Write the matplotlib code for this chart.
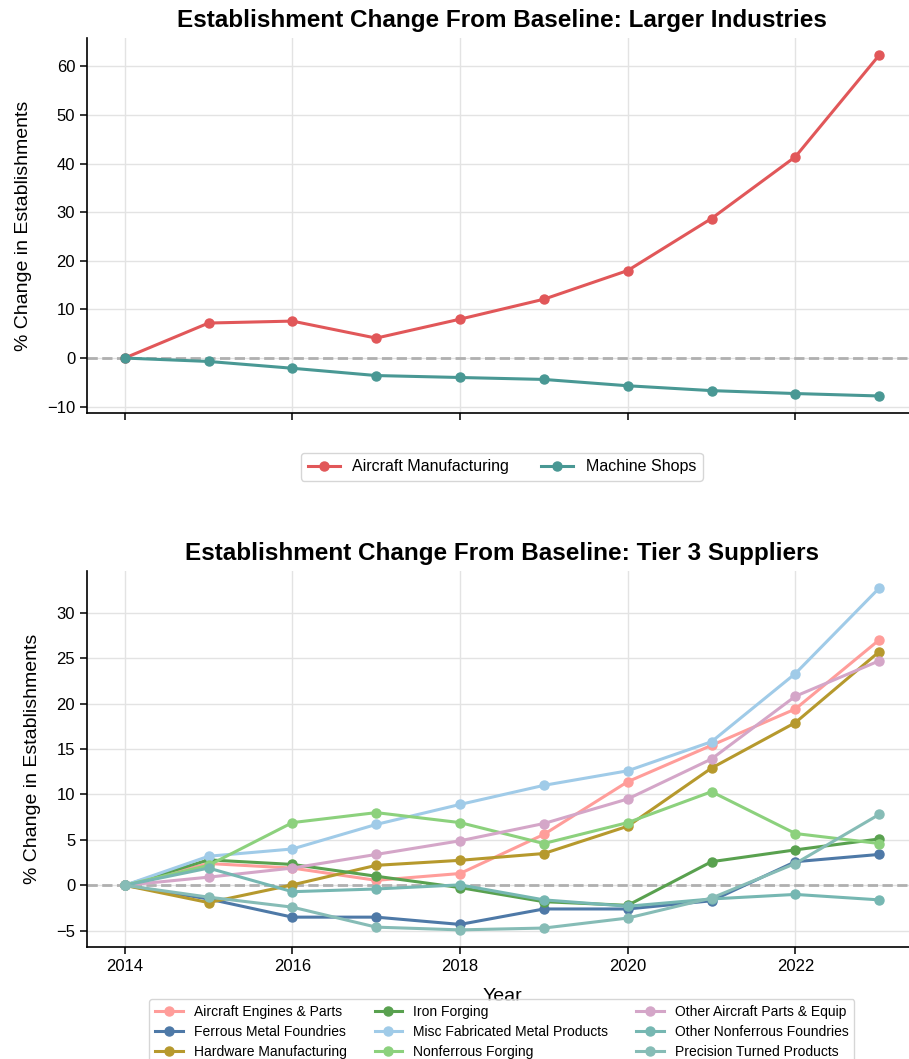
import matplotlib
matplotlib.use("Agg")
import matplotlib.pyplot as plt

plt.rcParams['font.family'] = ['Liberation Sans', 'DejaVu Sans']

years = [2014, 2015, 2016, 2017, 2018, 2019, 2020, 2021, 2022, 2023]

# larger industries (% change vs 2014)
aircraft_mfg = [0, 7.2, 7.6, 4.1, 8.0, 12.1, 18.0, 28.7, 41.4, 62.3]
machine_shops = [0, -0.7, -2.1, -3.6, -4.0, -4.4, -5.7, -6.7, -7.3, -7.8]

# tier 3 suppliers
engines_parts = [0, 2.4, 1.9, 0.55, 1.3, 5.6, 11.4, 15.4, 19.4, 27.0]
ferrous_found = [0, -1.5, -3.5, -3.5, -4.3, -2.6, -2.6, -1.7, 2.6, 3.4]
hardware_mfg = [0, -1.9, 0.05, 2.2, 2.75, 3.5, 6.5, 12.9, 17.9, 25.7]
iron_forging = [0, 2.8, 2.3, 1.0, -0.25, -1.8, -2.2, 2.6, 3.9, 5.1]
misc_fab_metal = [0, 3.2, 4.0, 6.7, 8.9, 11.0, 12.6, 15.8, 23.3, 32.7]
nonferr_forging = [0, 2.2, 6.9, 8.0, 6.9, 4.6, 6.9, 10.3, 5.7, 4.6]
other_aircraft = [0, 0.9, 1.9, 3.4, 4.9, 6.8, 9.5, 13.9, 20.8, 24.7]
other_nonferr = [0, 1.9, -0.7, -0.4, 0.05, -1.6, -2.3, -1.5, -1.0, -1.6]
precision_turned = [0, -1.3, -2.4, -4.6, -4.9, -4.7, -3.6, -1.4, 2.4, 7.8]

top_series = [
    ("Aircraft Manufacturing", aircraft_mfg, "#e15759"),
    ("Machine Shops", machine_shops, "#499894"),
]
tier3_series = [
    ("Aircraft Engines & Parts", engines_parts, "#ff9d9a"),
    ("Ferrous Metal Foundries", ferrous_found, "#4e79a7"),
    ("Hardware Manufacturing", hardware_mfg, "#b6992d"),
    ("Iron Forging", iron_forging, "#59a14f"),
    ("Misc Fabricated Metal Products", misc_fab_metal, "#a0cbe8"),
    ("Nonferrous Forging", nonferr_forging, "#8cd17d"),
    ("Other Aircraft Parts & Equip", other_aircraft, "#d4a6c8"),
    ("Other Nonferrous Foundries", other_nonferr, "#76b7b2"),
    ("Precision Turned Products", precision_turned, "#86bcb6"),
]

fig = plt.figure(figsize=(9.09, 10.59), dpi=100)
ax1 = fig.add_axes([0.0957, 0.610, 0.913, 0.354])
ax2 = fig.add_axes([0.0957, 0.1058, 0.913, 0.355])


def style(ax):
    ax.grid(True, color="#e3e3e3", lw=1)
    ax.set_axisbelow(True)
    for s in ["top", "right"]:
        ax.spines[s].set_visible(False)
    ax.spines["left"].set_linewidth(1.2)
    ax.spines["bottom"].set_linewidth(1.2)
    ax.tick_params(labelsize=12, length=5, width=1.1)
    ax.axhline(0, color="#b0b0b0", ls="--", lw=2, zorder=1)
    ax.set_xlim(2013.55, 2023.45)
    ax.set_xticks([2014, 2016, 2018, 2020, 2022])
    ax.set_ylabel("% Change in Establishments", fontsize=14, labelpad=11)


for name, vals, col in top_series:
    ax1.plot(years, vals, marker="o", ms=6.5, lw=2.2, color=col, label=name)
style(ax1)
ax1.tick_params(labelbottom=False)
ax1.set_title("Establishment Change From Baseline: Larger Industries",
              fontsize=17.5, fontweight="bold", pad=8)
ax1.legend(loc="upper center", bbox_to_anchor=(0.5, -0.085), ncol=2,
           fontsize=11.5, frameon=True)

for name, vals, col in tier3_series:
    ax2.plot(years, vals, marker="o", ms=6.5, lw=2.2, color=col, label=name)
style(ax2)
ax2.set_xlabel("Year", fontsize=14, labelpad=10)
ax2.set_title("Establishment Change From Baseline: Tier 3 Suppliers",
              fontsize=17.5, fontweight="bold", pad=8)
ax2.legend(loc="upper center", bbox_to_anchor=(0.5, -0.12), ncol=3,
           fontsize=10, frameon=True, labelspacing=0.45)

fig.savefig("out.png", dpi=100)
